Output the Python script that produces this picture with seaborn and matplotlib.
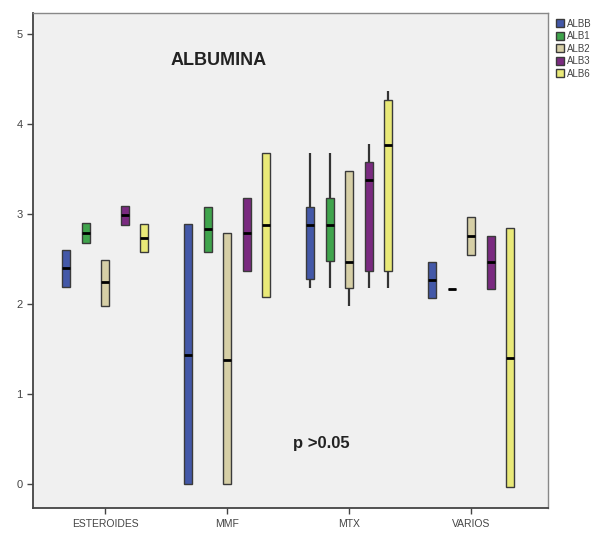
import pandas as pd
import matplotlib.pyplot as plt
import seaborn as sns

# --- Data (five-number summaries: min, Q1, median, Q3, max) ---
GROUPS = ["ESTEROIDES", "MMF", "MTX", "VARIOS"]
SERIES = ["ALBB", "ALB1", "ALB2", "ALB3", "ALB6"]

ALBB = [[2.19, 2.19, 2.40, 2.60, 2.60],
        [0.00, 0.00, 1.43, 2.89, 2.89],
        [2.18, 2.28, 2.87, 3.08, 3.68],
        [2.06, 2.06, 2.26, 2.46, 2.46]]
ALB1 = [[2.68, 2.68, 2.79, 2.90, 2.90],
        [2.58, 2.58, 2.83, 3.08, 3.08],
        [2.18, 2.47, 2.87, 3.18, 3.68],
        [2.16, 2.16, 2.16, 2.16, 2.16]]
ALB2 = [[1.98, 1.98, 2.24, 2.49, 2.49],
        [0.00, 0.00, 1.38, 2.79, 2.79],
        [1.97, 2.18, 2.46, 3.47, 3.47],
        [2.54, 2.54, 2.75, 2.96, 2.96]]
ALB3 = [[2.88, 2.88, 2.99, 3.09, 3.09],
        [2.36, 2.36, 2.79, 3.18, 3.18],
        [2.17, 2.36, 3.38, 3.57, 3.77],
        [2.16, 2.16, 2.46, 2.75, 2.75]]
ALB6 = [[2.58, 2.58, 2.73, 2.89, 2.89],
        [2.07, 2.07, 2.88, 3.68, 3.68],
        [2.17, 2.36, 3.76, 4.26, 4.36],
        [-0.04, -0.04, 1.40, 2.84, 2.84]]

COLORS = ["#4358a8", "#3fa44c", "#d6cfa6", "#7a2a80", "#e9e978"]

# long-form table for seaborn
rows = []
for name, values in zip(SERIES, [ALBB, ALB1, ALB2, ALB3, ALB6]):
    for grp, summary in zip(GROUPS, values):
        for v in summary:
            rows.append({"grupo": grp, "serie": name, "valor": v})
df = pd.DataFrame(rows)

sns.set_style("ticks", {"axes.facecolor": "#f0f0f0"})
plt.rcParams["font.family"] = ["Liberation Sans", "DejaVu Sans"]

fig = plt.figure(figsize=(6.03, 5.40), dpi=100)
ax = fig.add_axes([0.055, 0.059, 0.854, 0.917])

sns.boxplot(
    data=df, x="grupo", y="valor", hue="serie",
    order=GROUPS, hue_order=SERIES, palette=COLORS, saturation=1,
    whis=(0, 100), width=0.8, gap=0.6, dodge=True,
    linecolor="#3a3a3a", linewidth=1, fliersize=0, showcaps=False,
    medianprops={"color": "black", "linewidth": 2},
    whiskerprops={"color": "#333333", "linewidth": 1.6},
    ax=ax,
)

ax.set_xlim(-0.59, 3.63)
ax.set_ylim(-0.27, 5.23)
ax.set_yticks([0, 1, 2, 3, 4, 5])
ax.set_xlabel("")
ax.set_ylabel("")
ax.tick_params(axis="both", colors="#444444", labelsize=8, length=4, width=1)
ax.tick_params(axis="x", labelsize=7.5)

for side in ["left", "bottom"]:
    ax.spines[side].set_color("#444444")
    ax.spines[side].set_linewidth(1.3)
for side in ["top", "right"]:
    ax.spines[side].set_visible(True)
    ax.spines[side].set_color("#888888")
    ax.spines[side].set_linewidth(1.0)

ax.text(0.36, 0.905, "ALBUMINA", transform=ax.transAxes, ha="center", va="center",
        fontsize=13, fontweight="bold", color="#222222")
ax.text(0.56, 0.13, "p >0.05", transform=ax.transAxes, ha="center", va="center",
        fontsize=12, fontweight="bold", color="#222222")

leg = ax.legend(loc="upper left", bbox_to_anchor=(1.003, 1.0), frameon=False,
                fontsize=7, handlelength=0.9, handleheight=0.9,
                handletextpad=0.3, labelspacing=0.25, borderaxespad=0.2)
for t in leg.get_texts():
    t.set_color("#444444")

plt.savefig("out.png", dpi=100)
plt.close()
